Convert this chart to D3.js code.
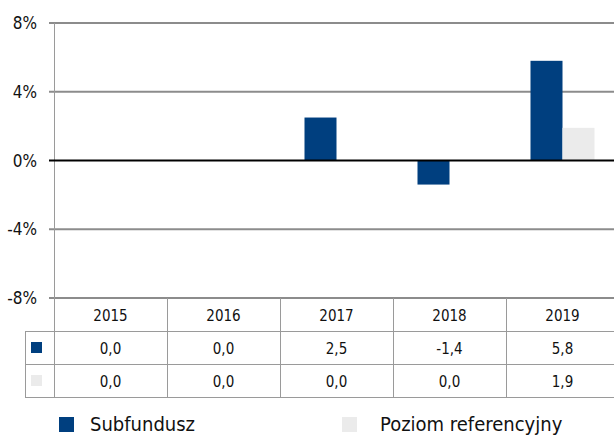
<!DOCTYPE html>
<html>
<head>
<meta charset="utf-8">
<script src="https://cdn.jsdelivr.net/npm/d3@7"></script>
<style>
  body { margin: 0; background: #fff; }
  svg { display: block; font-family: "DejaVu Sans Condensed", "DejaVu Sans", sans-serif; }
</style>
</head>
<body>
<svg id="chart" width="614" height="435"></svg>
<script>
// data
const years = ['2015', '2016', '2017', '2018', '2019'];
const subfundusz = [0.0, 0.0, 2.5, -1.4, 5.8];
const poziom = [0.0, 0.0, 0.0, 0.0, 1.9];
const seriesNames = ['Subfundusz', 'Poziom referencyjny'];
const yTicks = [8, 4, 0, -4, -8];

const colors = ['#003f7f', '#ebebeb'];
const fmt = v => v.toFixed(1).replace('.', ',');

const svg = d3.select('#chart');

const x = d3.scaleBand().domain(years).range([54, 619]);
const y = d3.scaleLinear().domain([-8, 8]).range([298, 23]);
const barW = 32;

// gridlines
svg.append('g').selectAll('line')
    .data(yTicks.filter(d => d !== 0))
    .enter().append('line')
    .attr('x1', 49).attr('x2', 614)
    .attr('y1', d => y(d)).attr('y2', d => y(d))
    .attr('stroke', '#8c8c8c').attr('stroke-width', 2);

// y axis line
svg.append('line')
    .attr('x1', 54.5).attr('x2', 54.5)
    .attr('y1', y(8)).attr('y2', y(-8))
    .attr('stroke', '#9a9a9a').attr('stroke-width', 1);

// tick labels
svg.append('g').selectAll('text')
    .data(yTicks)
    .enter().append('text')
    .attr('x', 37).attr('y', d => y(d) + 6)
    .attr('text-anchor', 'end')
    .attr('font-size', 17)
    .attr('fill', '#111')
    .text(d => d + '%');

// bars
const series = [subfundusz, poziom];
series.forEach((vals, s) => {
    svg.append('g').selectAll('rect')
        .data(vals.map((v, i) => ({ v, c: years[i] })))
        .enter().append('rect')
        .attr('x', d => x(d.c) + x.bandwidth() / 2 - barW + s * barW)
        .attr('y', d => y(Math.max(0, d.v)))
        .attr('width', barW)
        .attr('height', d => Math.abs(y(d.v) - y(0)))
        .attr('fill', colors[s]);
});

// zero line
svg.append('line')
    .attr('x1', 49).attr('x2', 614)
    .attr('y1', y(0)).attr('y2', y(0))
    .attr('stroke', '#000').attr('stroke-width', 2);

// data table
const rowTop = 298, rowH = 33;
const table = svg.append('g');
const lineCol = '#9a9a9a';

// horizontal row lines
[1, 2, 3].forEach(r => {
    table.append('line')
        .attr('x1', 25).attr('x2', 614)
        .attr('y1', rowTop + r * rowH + 0.5).attr('y2', rowTop + r * rowH + 0.5)
        .attr('stroke', lineCol);
});
// vertical lines
years.forEach((c, i) => {
    if (i === 0) return;
    table.append('line')
        .attr('x1', x(c) + 0.5).attr('x2', x(c) + 0.5)
        .attr('y1', rowTop).attr('y2', rowTop + 3 * rowH)
        .attr('stroke', lineCol);
});
table.append('line')
    .attr('x1', 54.5).attr('x2', 54.5)
    .attr('y1', rowTop).attr('y2', rowTop + 3 * rowH)
    .attr('stroke', lineCol);
table.append('line')
    .attr('x1', 25.5).attr('x2', 25.5)
    .attr('y1', rowTop + rowH).attr('y2', rowTop + 3 * rowH)
    .attr('stroke', lineCol);

// header
table.selectAll('.hdr')
    .data(years)
    .enter().append('text')
    .attr('class', 'hdr')
    .attr('x', d => x(d) + x.bandwidth() / 2)
    .attr('y', rowTop + rowH / 2 + 6)
    .attr('text-anchor', 'middle')
    .attr('font-size', 15)
    .attr('fill', '#111')
    .text(d => d);

series.forEach((vals, s) => {
    const ry = rowTop + (s + 1) * rowH;
    table.append('rect')
        .attr('x', 31).attr('y', ry + 11)
        .attr('width', 11).attr('height', 11)
        .attr('fill', colors[s]);
    table.append('g').selectAll('text')
        .data(vals.map((v, i) => ({ v, c: years[i] })))
        .enter().append('text')
        .attr('x', d => x(d.c) + x.bandwidth() / 2)
        .attr('y', ry + rowH / 2 + 6)
        .attr('text-anchor', 'middle')
        .attr('font-size', 15)
        .attr('fill', '#111')
        .text(d => fmt(d.v));
});

// legend
const legendX = [59, 342];
const legendTextX = [90, 380];
seriesNames.forEach((name, s) => {
    svg.append('rect')
        .attr('x', legendX[s]).attr('y', 417)
        .attr('width', 15).attr('height', 15)
        .attr('fill', colors[s]);
    svg.append('text')
        .attr('x', legendTextX[s]).attr('y', 431)
        .attr('font-size', 20)
        .attr('fill', '#111')
        .text(name);
});
</script>
</body>
</html>
